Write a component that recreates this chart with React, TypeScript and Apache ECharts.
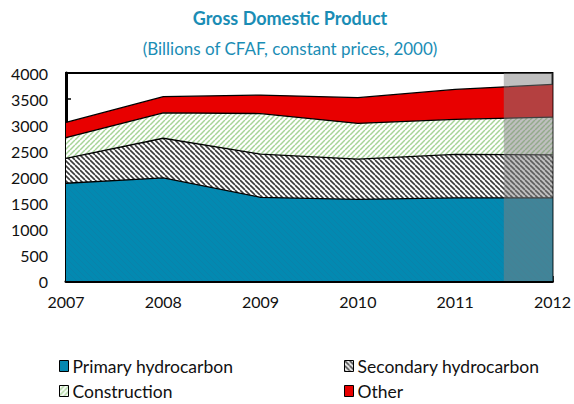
import React, { useEffect, useRef } from "react";
import * as echarts from "echarts";

const years = ["2007", "2008", "2009", "2010", "2011", "2012"];
const yearValues = [2007, 2008, 2009, 2010, 2011, 2012];
const yTicks = [0, 500, 1000, 1500, 2000, 2500, 3000, 3500, 4000];
const primary = [1880, 1985, 1610, 1570, 1600, 1600];
const secondary = [480, 760, 830, 775, 835, 825];
const construction = [395, 490, 780, 685, 675, 725];
const other = [295, 310, 355, 495, 575, 630];
const projectionStart = 2011.5;
const projectionEnd = 2012;

const seriesNames = ["Primary hydrocarbon", "Secondary hydrocarbon", "Construction", "Other"];

function stripeTile(bg: string, fg: string, dir: "down" | "up", size: number, lw: number) {
  const c = document.createElement("canvas");
  c.width = size;
  c.height = size;
  const ctx = c.getContext("2d")!;
  ctx.fillStyle = bg;
  ctx.fillRect(0, 0, size, size);
  ctx.strokeStyle = fg;
  ctx.lineWidth = lw;
  for (let k = -1; k <= 1; k++) {
    ctx.beginPath();
    if (dir === "down") {
      ctx.moveTo(k * size, 0);
      ctx.lineTo(k * size + size, size);
    } else {
      ctx.moveTo(k * size, size);
      ctx.lineTo(k * size + size, 0);
    }
    ctx.stroke();
  }
  return c;
}

export default function App() {
  const ref = useRef<HTMLDivElement>(null);
  useEffect(() => {
    if (!ref.current) return;
    const chart = echarts.init(ref.current, undefined, { renderer: "svg" });
    const primaryFill = { image: stripeTile("#0389B1", "#0A82AA", "down", 6, 1), repeat: "repeat" };
    const secondaryFill = { image: stripeTile("#ffffff", "#3a3a3a", "down", 5, 1.6), repeat: "repeat" };
    const constructionFill = { image: stripeTile("#ffffff", "#A6D497", "up", 5, 1.5), repeat: "repeat" };
    const otherFill = "#E80000";
    const fills: any[] = [primaryFill, secondaryFill, constructionFill, otherFill];
    const values = [primary, secondary, construction, other];
    const font = "Lato, 'Noto Sans', sans-serif";

    const legendPos = [
      { left: 59, top: 357 },
      { left: 344, top: 357 },
      { left: 59, top: 382 },
      { left: 344, top: 382 },
    ];

    const option: any = {
      animation: false,
      textStyle: { fontFamily: font },
      title: [
        {
          text: "Gross Domestic Product",
          left: 285,
          top: 4,
          textAlign: "center",
          textStyle: { fontFamily: font, fontSize: 18, fontWeight: "bold", color: "#1A8DB5" },
        },
        {
          text: "(Billions of CFAF, constant prices, 2000)",
          left: 285,
          top: 35,
          textAlign: "center",
          textStyle: { fontFamily: font, fontSize: 17, fontWeight: "normal", color: "#1A8DB5" },
        },
      ],
      legend: seriesNames.map((name, i) => ({
        show: true,
        left: legendPos[i].left,
        top: legendPos[i].top,
        padding: 0,
        itemWidth: 9,
        itemHeight: 11,
        itemGap: 4,
        icon: "rect",
        selectedMode: false,
        textStyle: { fontFamily: font, fontSize: 17.5, color: "#111", padding: [0, 0, 0, -1] },
        data: [
          {
            name,
            icon: "rect",
            itemStyle: { color: fills[i], borderColor: "#000", borderWidth: 1 },
          },
        ],
      })),
      grid: {
        left: 66,
        right: 20,
        top: 73,
        bottom: 123,
        show: true,
        borderColor: "#000",
        borderWidth: 2,
        backgroundColor: "transparent",
      },
      xAxis: [
        {
          type: "category",
          data: years,
          boundaryGap: false,
          splitLine: { show: false },
          axisLine: { show: true, lineStyle: { color: "#000", width: 3 } },
          axisTick: { show: true, inside: true, length: 5, lineStyle: { color: "#000", width: 1.5 } },
          axisLabel: {
            fontFamily: font,
            fontSize: 16,
            color: "#111",
            margin: 12,
          },
        },
        {
          type: "value",
          show: false,
          position: "bottom",
          min: yearValues[0],
          max: yearValues[yearValues.length - 1],
          splitLine: { show: false },
        },
      ],
      yAxis: {
        type: "value",
        min: yTicks[0],
        max: yTicks[yTicks.length - 1],
        interval: yTicks[1] - yTicks[0],
        splitLine: { show: false },
        axisLine: { show: true, lineStyle: { color: "#000", width: 3 } },
        axisTick: { show: true, inside: true, length: 5, lineStyle: { color: "#000", width: 1.5 } },
        axisLabel: {
          fontFamily: font,
          fontSize: 16,
          color: "#111",
          margin: 18,
          formatter: (v: number) => String(v),
        },
      },
      series: [
        ...seriesNames.map((name, i) => ({
          name,
          type: "line",
          stack: "gdp",
          symbol: "none",
          data: values[i],
          lineStyle: { color: "#000", width: 1.3 },
          itemStyle: { color: fills[i] },
          areaStyle: { color: fills[i], opacity: 1 },
          z: 2,
        })),
        {
          name: "projection",
          type: "line",
          xAxisIndex: 1,
          data: [],
          z: 10,
          markArea: {
            silent: true,
            z: 10,
            itemStyle: { color: "rgba(128,128,128,0.5)", borderWidth: 0 },
            data: [[{ xAxis: projectionStart }, { xAxis: projectionEnd }]],
          },
        },
      ],
    };
    chart.setOption(option);
    return () => chart.dispose();
  }, []);
  return (
    <div
      ref={ref}
      style={{ position: "absolute", left: 0, top: 0, width: 574, height: 404, background: "#fff" }}
    />
  );
}
